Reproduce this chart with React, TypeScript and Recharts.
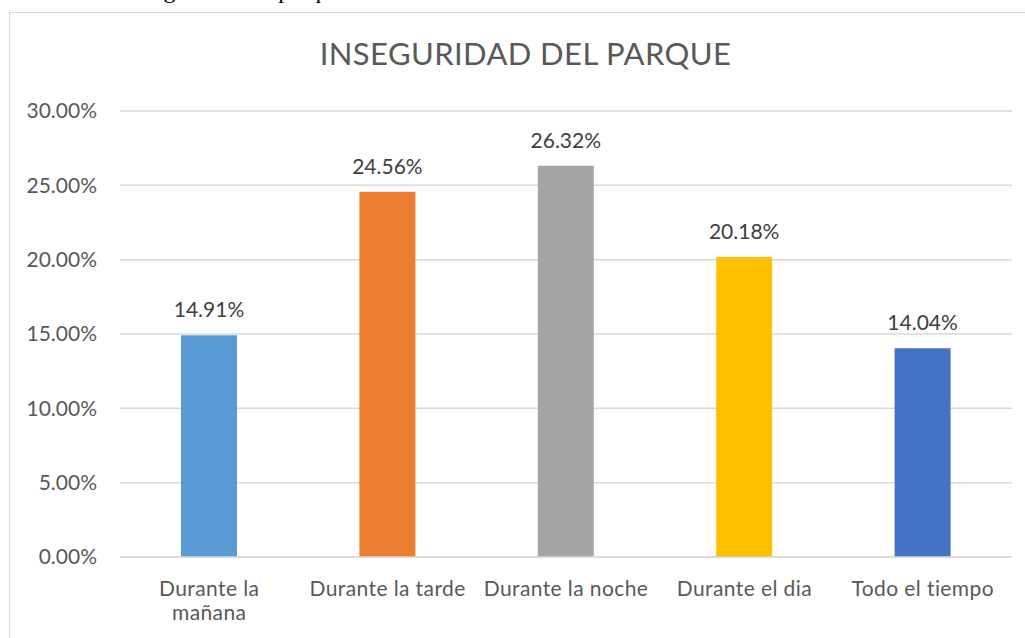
import React from 'react';
import { BarChart, Bar, XAxis, YAxis, CartesianGrid, LabelList, Cell } from 'recharts';

const categories = ['Durante la\nmañana', 'Durante la tarde', 'Durante la noche', 'Durante el dia', 'Todo el tiempo'];
const values = [14.91, 24.56, 26.32, 20.18, 14.04];
const barColors = ['#5B9BD5', '#ED7D31', '#A5A5A5', '#FFC000', '#4472C4'];
const yTicks = [0, 5, 10, 15, 20, 25, 30];

const data = categories.map((name, i) => ({ name, value: values[i] }));

const FONT = 'Lato, "Open Sans", sans-serif';

const CategoryTick = (props: any) => {
  const { x, y, payload } = props;
  const lines = String(payload.value).split('\n');
  return (
    <text x={x} y={y} textAnchor="middle" fill="#595959" fontSize={21} fontFamily={FONT} letterSpacing={0.4}>
      {lines.map((line, i) => (
        <tspan key={i} x={x} dy={i === 0 ? 31 : 24}>
          {line}
        </tspan>
      ))}
    </text>
  );
};

export default function App() {
  return (
    <div
      style={{
        position: 'absolute',
        left: 0,
        top: 0,
        width: 1025,
        height: 638,
        overflow: 'hidden',
        background: '#fff',
      }}
    >
      {/* caption above the chart, mostly cut off at the top edge */}
      <div
        style={{
          position: 'absolute',
          left: 28,
          top: -22,
          fontFamily: '"Liberation Serif", serif',
          fontSize: 24,
          lineHeight: '24px',
          whiteSpace: 'nowrap',
          color: '#000',
        }}
      >
        Tabla 13: Inseguridad del parque
      </div>
      <div
        style={{
          position: 'absolute',
          left: 9,
          top: 12,
          width: 1100,
          height: 700,
          border: '1px solid #D9D9D9',
        }}
      />
      <div
        style={{
          position: 'absolute',
          left: 13,
          top: 34,
          width: 1025,
          textAlign: 'center',
          fontFamily: FONT,
          fontSize: 31,
          letterSpacing: 0.4,
          color: '#595959',
          lineHeight: '38px',
        }}
      >
        INSEGURIDAD DEL PARQUE
      </div>
      <BarChart
        width={1025}
        height={638}
        data={data}
        margin={{ top: 111, right: 13, bottom: 0, left: 0 }}
        style={{ position: 'absolute', left: 0, top: 0 }}
      >
        <CartesianGrid vertical={false} stroke="#D9D9D9" strokeWidth={1.5} />
        <XAxis
          dataKey="name"
          height={81}
          axisLine={{ stroke: '#D9D9D9', strokeWidth: 1.5 }}
          tickLine={false}
          tick={<CategoryTick />}
          interval={0}
        />
        <YAxis
          width={120}
          domain={[0, 30]}
          ticks={yTicks}
          axisLine={false}
          tickLine={false}
          tickSize={0}
          tickMargin={23}
          tickFormatter={(v: number) => `${v.toFixed(2)}%`}
          tick={{ fill: '#595959', fontSize: 21, fontFamily: FONT }}
        />
        <Bar dataKey="value" barSize={56} isAnimationActive={false}>
          {data.map((_, i) => (
            <Cell key={i} fill={barColors[i]} />
          ))}
          <LabelList
            dataKey="value"
            position="top"
            offset={18}
            formatter={(v: number) => `${v.toFixed(2)}%`}
            style={{ fill: '#404040', fontSize: 21, fontFamily: FONT }}
          />
        </Bar>
      </BarChart>
    </div>
  );
}
